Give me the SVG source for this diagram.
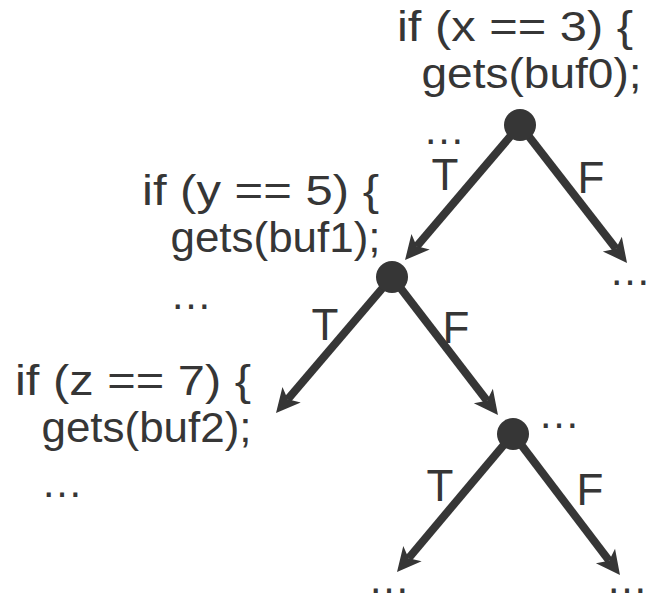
<svg xmlns="http://www.w3.org/2000/svg" width="658" height="602" viewBox="0 0 658 602">
<defs>
<style>
text { font-family: "Liberation Sans", Arial, sans-serif; font-size: 42px; fill: #363636; }
.lab { text-anchor: middle; font-size: 44px; }
.edge { stroke: #363636; stroke-width: 8; fill: none; marker-end: url(#ah); }
.node { fill: #363636; }
</style>
<marker id="ah" markerUnits="userSpaceOnUse" orient="auto" refX="0" refY="0" markerWidth="30" markerHeight="30" overflow="visible">
<path d="M18,0 L-6,-12 L0,0 L-6,12 Z" fill="#363636"/>
</marker>
</defs>
<rect width="658" height="602" fill="#ffffff"/>
<g id="connectors">
<line class="edge" x1="520" y1="125" x2="416.7" y2="246.3"/>
<line class="edge" x1="520" y1="125" x2="616" y2="248.8"/>
<line class="edge" x1="392" y1="277" x2="287.7" y2="399.3"/>
<line class="edge" x1="392" y1="277" x2="487" y2="400.7"/>
<line class="edge" x1="513" y1="434" x2="408.6" y2="558.2"/>
<line class="edge" x1="513" y1="434" x2="609.1" y2="560.7"/>
<text class="lab" x="445" y="190">T</text>
<text class="lab" x="591" y="193">F</text>
<text class="lab" x="325" y="340">T</text>
<text class="lab" x="456" y="343">F</text>
<text class="lab" x="440" y="501">T</text>
<text class="lab" x="590" y="505">F</text>
</g>
<g id="node1">
<circle class="node" cx="520" cy="125" r="16"/>
<text x="397" y="41" textLength="236" lengthAdjust="spacingAndGlyphs">if (x == 3) {</text>
<text x="421.5" y="88" textLength="220" lengthAdjust="spacingAndGlyphs">gets(buf0);</text>
<text x="423" y="144">…</text>
</g>
<g id="node1-false">
<text x="609" y="285">…</text>
</g>
<g id="node2">
<circle class="node" cx="392" cy="277" r="16"/>
<text x="142" y="205" textLength="237" lengthAdjust="spacingAndGlyphs">if (y == 5) {</text>
<text x="170.5" y="252" textLength="210" lengthAdjust="spacingAndGlyphs">gets(buf1);</text>
<text x="170" y="309">…</text>
</g>
<g id="node2-true">
<text x="15" y="395" textLength="236" lengthAdjust="spacingAndGlyphs">if (z == 7) {</text>
<text x="41.5" y="442" textLength="210" lengthAdjust="spacingAndGlyphs">gets(buf2);</text>
<text x="41" y="497">…</text>
</g>
<g id="node3">
<circle class="node" cx="513" cy="434" r="16"/>
<text x="538" y="428">…</text>
</g>
<g id="node3-true">
<text x="368" y="593">…</text>
</g>
<g id="node3-false">
<text x="606" y="593">…</text>
</g>
</svg>
